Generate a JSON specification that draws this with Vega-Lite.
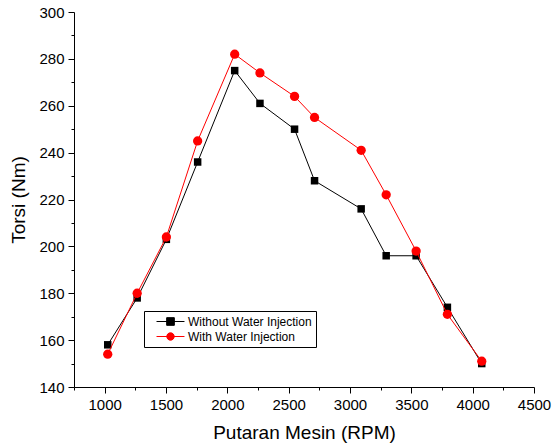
{
  "$schema": "https://vega.github.io/schema/vega-lite/v6.json",
  "width": 460,
  "height": 375,
  "autosize": "none",
  "padding": {"left": 74, "top": 12, "right": 18, "bottom": 61},
  "background": "white",
  "config": {
    "view": {"stroke": null},
    "font": "Liberation Sans",
    "axis": {
      "domainColor": "black",
      "domainWidth": 1,
      "tickColor": "black",
      "tickWidth": 1,
      "grid": false,
      "labelColor": "black",
      "titleColor": "black",
      "labelFont": "Liberation Sans",
      "titleFont": "Liberation Sans",
      "labelFontSize": 15,
      "titleFontSize": 19,
      "titleFontWeight": "normal"
    },
    "legend": {
      "orient": "none",
      "legendX": 70,
      "legendY": 299,
      "padding": 4,
      "symbolSize": 144,
      "symbolOffset": 16,
      "labelOffset": 11,
      "rowPadding": 2,
      "labelFont": "Liberation Sans",
      "labelFontSize": 12,
      "labelColor": "black",
      "fillColor": "white",
      "strokeColor": "black",
      "symbolStrokeWidth": 1
    }
  },
  "data": {
    "values": [
      {"rpm": 1025, "torsi": 158, "series": "Without Water Injection"},
      {"rpm": 1265, "torsi": 178, "series": "Without Water Injection"},
      {"rpm": 1503, "torsi": 203, "series": "Without Water Injection"},
      {"rpm": 1758, "torsi": 236, "series": "Without Water Injection"},
      {"rpm": 2060, "torsi": 275, "series": "Without Water Injection"},
      {"rpm": 2266, "torsi": 261, "series": "Without Water Injection"},
      {"rpm": 2548, "torsi": 250, "series": "Without Water Injection"},
      {"rpm": 2711, "torsi": 228, "series": "Without Water Injection"},
      {"rpm": 3091, "torsi": 216, "series": "Without Water Injection"},
      {"rpm": 3295, "torsi": 196, "series": "Without Water Injection"},
      {"rpm": 3539, "torsi": 196, "series": "Without Water Injection"},
      {"rpm": 3794, "torsi": 174, "series": "Without Water Injection"},
      {"rpm": 4074, "torsi": 150, "series": "Without Water Injection"},
      {"rpm": 1025, "torsi": 154, "series": "With Water Injection"},
      {"rpm": 1265, "torsi": 180, "series": "With Water Injection"},
      {"rpm": 1503, "torsi": 204, "series": "With Water Injection"},
      {"rpm": 1758, "torsi": 245, "series": "With Water Injection"},
      {"rpm": 2060, "torsi": 282, "series": "With Water Injection"},
      {"rpm": 2266, "torsi": 274, "series": "With Water Injection"},
      {"rpm": 2548, "torsi": 264, "series": "With Water Injection"},
      {"rpm": 2711, "torsi": 255, "series": "With Water Injection"},
      {"rpm": 3091, "torsi": 241, "series": "With Water Injection"},
      {"rpm": 3295, "torsi": 222, "series": "With Water Injection"},
      {"rpm": 3539, "torsi": 198, "series": "With Water Injection"},
      {"rpm": 3794, "torsi": 171, "series": "With Water Injection"},
      {"rpm": 4074, "torsi": 151, "series": "With Water Injection"}
    ]
  },
  "encoding": {
    "x": {
      "field": "rpm",
      "type": "quantitative",
      "scale": {"domain": [750, 4500], "nice": false, "zero": false},
      "axis": {
        "title": "Putaran Mesin (RPM)",
        "format": "d",
        "values": [750, 1000, 1250, 1500, 1750, 2000, 2250, 2500, 2750, 3000, 3250, 3500, 3750, 4000, 4250, 4500],
        "labelExpr": "datum.value % 500 === 0 ? datum.label : ''",
        "tickSize": {"condition": {"test": "datum.value % 500 === 0", "value": 6}, "value": 3},
        "labelPadding": 4,
        "titlePadding": 11,
        "labelFlush": false,
        "labelOverlap": false
      }
    },
    "y": {
      "field": "torsi",
      "type": "quantitative",
      "scale": {"domain": [140, 300], "nice": false, "zero": false},
      "axis": {
        "title": "Torsi (Nm)",
        "values": [140, 150, 160, 170, 180, 190, 200, 210, 220, 230, 240, 250, 260, 270, 280, 290, 300],
        "labelExpr": "datum.value % 20 === 0 ? datum.label : ''",
        "tickSize": {"condition": {"test": "datum.value % 20 === 0", "value": 6}, "value": 3},
        "labelPadding": 4,
        "titlePadding": 10,
        "labelFlush": false,
        "labelOverlap": false
      }
    }
  },
  "layer": [
    {
      "transform": [{"filter": "datum.series === 'Without Water Injection'"}],
      "mark": {"type": "line", "strokeWidth": 1, "color": "#000000", "point": {"shape": "square", "size": 56, "filled": true, "color": "#000000", "opacity": 1}},
      "encoding": {}
    },
    {
      "transform": [{"filter": "datum.series === 'With Water Injection'"}],
      "mark": {"type": "line", "strokeWidth": 1, "color": "#ff0000", "point": {"shape": "circle", "size": 86, "filled": true, "color": "#ff0000", "opacity": 1}},
      "encoding": {}
    },
    {
      "transform": [{"filter": "false"}],
      "mark": {"type": "point", "filled": true, "strokeWidth": 1, "size": 144, "opacity": 1},
      "encoding": {
        "color": {
          "field": "series",
          "type": "nominal",
          "scale": {"domain": ["Without Water Injection", "With Water Injection"], "range": ["#000000", "#ff0000"]},
          "legend": {"title": null}
        },
        "stroke": {
          "field": "series",
          "type": "nominal",
          "scale": {"domain": ["Without Water Injection", "With Water Injection"], "range": ["#000000", "#ff0000"]},
          "legend": {"title": null}
        },
        "shape": {
          "field": "series",
          "type": "nominal",
          "scale": {"domain": ["Without Water Injection", "With Water Injection"], "range": ["M-2.33,0H2.33M-0.64,-0.64H0.64V0.64H-0.64Z", "M-2.33,0H2.33M0.62,0A0.62,0.62,0,1,1,-0.62,0A0.62,0.62,0,1,1,0.62,0Z"]},
          "legend": {"title": null}
        }
      }
    }
  ]
}
